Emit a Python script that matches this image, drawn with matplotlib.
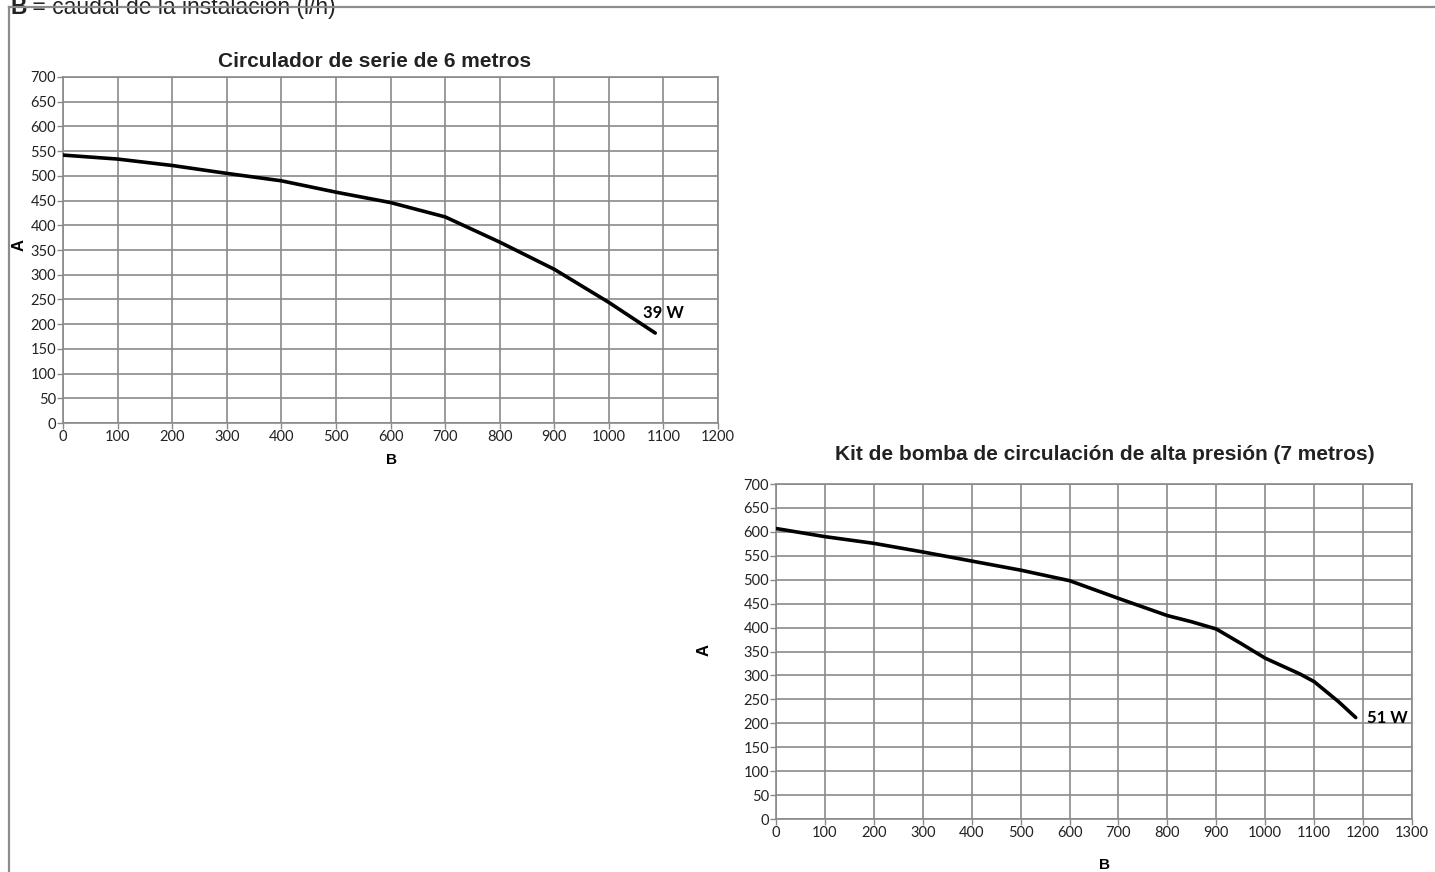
import matplotlib
matplotlib.use("Agg")
import matplotlib.pyplot as plt
from matplotlib.lines import Line2D

# =====================
# Dati
# =====================
flow_6m = [0, 100, 200, 300, 400, 500, 600, 700, 800, 900, 1000, 1085]
head_6m = [542, 534, 521, 505, 490, 467, 446, 417, 366, 311, 244, 182]

flow_7m = [0, 100, 200, 300, 400, 500, 600, 700, 800, 850, 900, 950, 1000, 1071, 1100, 1150, 1185]
head_7m = [607, 590, 576, 558, 539, 520, 498, 461, 425, 412, 397, 367, 336, 303, 287, 245, 212]

title_6m = "Circulador de serie de 6 metros"
title_7m = "Kit de bomba de circulación de alta presión (7 metros)"
label_6m = "39 W"
label_7m = "51 W"

yticks = list(range(0, 701, 50))
xticks_6m = list(range(0, 1201, 100))
xticks_7m = list(range(0, 1301, 100))

W, H = 1435, 872
GRID = "#8a8a8a"
TICK_FONT = "Lato"
BOLD_FONT = "Liberation Sans"


def px_axes(fig, left, top, right, bottom):
    return fig.add_axes([left / W, 1 - bottom / H, (right - left) / W, (bottom - top) / H])


def style(ax, xticks, xmax):
    ax.set_xlim(0, xmax)
    ax.set_ylim(0, 700)
    ax.set_xticks(xticks)
    ax.set_yticks(yticks)
    ax.grid(True, color=GRID, linewidth=1.2)
    ax.set_axisbelow(True)
    for s in ax.spines.values():
        s.set_color(GRID)
        s.set_linewidth(1.2)
    ax.tick_params(axis="both", direction="out", length=4, width=1.0, color=GRID,
                   labelsize=10.5, pad=1)
    for lab in ax.get_xticklabels() + ax.get_yticklabels():
        lab.set_fontfamily(TICK_FONT)
        lab.set_color("#222222")


fig = plt.figure(figsize=(W / 100, H / 100), dpi=100)

# cornice
fig.add_artist(Line2D([9 / W, 1], [1 - 7 / H, 1 - 7 / H], color="#8c8c8c", linewidth=1.6))
fig.add_artist(Line2D([9 / W, 9 / W], [0, 1 - 7 / H], color="#8c8c8c", linewidth=1.6))

# intestazione: "B" in grassetto + resto normale
hb = fig.text(10 / W, 1 - 14 / H, "B", fontsize=16.5, fontweight="bold", family=BOLD_FONT,
              color="#222222", va="baseline", zorder=0)
fig.canvas.draw()
bb = hb.get_window_extent()
fig.text(bb.x1 / W, 1 - 14 / H, " = caudal de la instalación (l/h)", fontsize=16.5,
         family=BOLD_FONT, color="#222222", va="baseline", zorder=0)

# =====================
# Grafico 1
# =====================
ax1 = px_axes(fig, 63, 77, 718, 423)
style(ax1, xticks_6m, 1200)
ax1.plot(flow_6m, head_6m, color="black", linewidth=2.6, solid_capstyle="round",
         solid_joinstyle="round", zorder=3)
ax1.text(1100, 222, label_6m, ha="center", va="center", fontsize=12,
         fontweight="bold", family=TICK_FONT)
ax1.set_title(title_6m, fontsize=15, fontweight="bold", family=BOLD_FONT,
              x=0.476, pad=7, color="#222222")
ax1.set_ylabel("A", fontsize=12, fontweight="bold", family=BOLD_FONT)
ax1.yaxis.set_label_coords(-0.056, 0.514)
ax1.set_xlabel("B", fontsize=11, fontweight="bold", family=BOLD_FONT)
ax1.xaxis.set_label_coords(0.502, -0.087)

# =====================
# Grafico 2
# =====================
ax2 = px_axes(fig, 776, 484, 1412, 819)
style(ax2, xticks_7m, 1300)
ax2.plot(flow_7m, head_7m, color="black", linewidth=2.6, solid_capstyle="round",
         solid_joinstyle="round", zorder=3)
ax2.text(1250, 212, label_7m, ha="center", va="center", fontsize=12,
         fontweight="bold", family=TICK_FONT)
ax2.set_title(title_7m, fontsize=15, fontweight="bold", family=BOLD_FONT,
              x=0.517, pad=17, color="#222222")
ax2.set_ylabel("A", fontsize=12, fontweight="bold", family=BOLD_FONT)
ax2.yaxis.set_label_coords(-0.1006, 0.504)
ax2.set_xlabel("B", fontsize=11, fontweight="bold", family=BOLD_FONT)
ax2.xaxis.set_label_coords(0.517, -0.115)

plt.savefig("out.png", dpi=100)
